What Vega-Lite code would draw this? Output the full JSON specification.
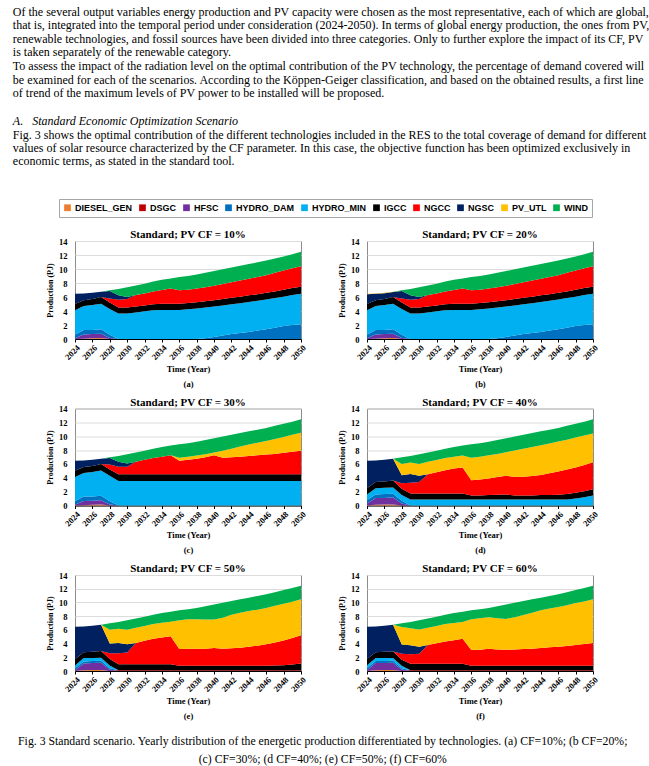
{
"$schema":"https://vega.github.io/schema/vega-lite/v6.json",
"background":"white",
"padding":{"left":12,"top":5,"right":0,"bottom":0},
"datasets":{
"names":[{"k":"DG","tech":"DIESEL_GEN"},{"k":"DS","tech":"DSGC"},{"k":"HF","tech":"HFSC"},{"k":"HD","tech":"HYDRO_DAM"},{"k":"HM","tech":"HYDRO_MIN"},{"k":"IG","tech":"IGCC"},{"k":"NC","tech":"NGCC"},{"k":"NS","tech":"NGSC"},{"k":"PV","tech":"PV_UTL"},{"k":"WI","tech":"WIND"}],
"prod":[
{"p":"a","yr":2024,"DG":0,"DS":0,"HF":0.1,"HD":0.5,"HM":3.5,"IG":0.9,"NC":0,"NS":1.45,"PV":0,"WI":0},
{"p":"a","yr":2025,"DG":0.05,"DS":0,"HF":0.6,"HD":0.65,"HM":3.4,"IG":0.85,"NC":0,"NS":0.95,"PV":0,"WI":0},
{"p":"a","yr":2026,"DG":0.1,"DS":0,"HF":0.6,"HD":0.6,"HM":3.55,"IG":0.85,"NC":0,"NS":0.9,"PV":0,"WI":0},
{"p":"a","yr":2027,"DG":0.15,"DS":0,"HF":0.6,"HD":0.65,"HM":3.65,"IG":0.95,"NC":0,"NS":0.75,"PV":0,"WI":0},
{"p":"a","yr":2028,"DG":0,"DS":0,"HF":0.15,"HD":0.45,"HM":3.7,"IG":0.9,"NC":0.6,"NS":1.05,"PV":0,"WI":0.1},
{"p":"a","yr":2029,"DG":0,"DS":0,"HF":0,"HD":0,"HM":3.65,"IG":0.85,"NC":1.1,"NS":0.65,"PV":0,"WI":0.9},
{"p":"a","yr":2030,"DG":0,"DS":0,"HF":0,"HD":0,"HM":3.65,"IG":0.85,"NC":1.2,"NS":0.3,"PV":0,"WI":1.4},
{"p":"a","yr":2031,"DG":0,"DS":0,"HF":0,"HD":0,"HM":3.8,"IG":0.85,"NC":1.65,"NS":0,"PV":0,"WI":1.35},
{"p":"a","yr":2032,"DG":0,"DS":0,"HF":0,"HD":0,"HM":3.95,"IG":0.85,"NC":1.7,"NS":0,"PV":0,"WI":1.4},
{"p":"a","yr":2033,"DG":0,"DS":0,"HF":0,"HD":0,"HM":4.1,"IG":0.85,"NC":1.85,"NS":0,"PV":0,"WI":1.4},
{"p":"a","yr":2034,"DG":0,"DS":0,"HF":0,"HD":0,"HM":4.15,"IG":0.9,"NC":1.95,"NS":0,"PV":0,"WI":1.45},
{"p":"a","yr":2035,"DG":0,"DS":0,"HF":0,"HD":0,"HM":4.15,"IG":0.9,"NC":2.15,"NS":0,"PV":0,"WI":1.45},
{"p":"a","yr":2036,"DG":0,"DS":0,"HF":0,"HD":0,"HM":4.15,"IG":0.9,"NC":1.9,"NS":0,"PV":0,"WI":1.9},
{"p":"a","yr":2037,"DG":0,"DS":0,"HF":0,"HD":0,"HM":4.25,"IG":0.9,"NC":1.9,"NS":0,"PV":0,"WI":1.95},
{"p":"a","yr":2038,"DG":0,"DS":0,"HF":0,"HD":0,"HM":4.35,"IG":0.9,"NC":1.95,"NS":0,"PV":0,"WI":2.0},
{"p":"a","yr":2039,"DG":0,"DS":0,"HF":0,"HD":0.1,"HM":4.4,"IG":0.9,"NC":2.0,"NS":0,"PV":0,"WI":2.05},
{"p":"a","yr":2040,"DG":0,"DS":0,"HF":0,"HD":0.3,"HM":4.35,"IG":0.9,"NC":2.05,"NS":0,"PV":0,"WI":2.1},
{"p":"a","yr":2041,"DG":0,"DS":0,"HF":0,"HD":0.5,"HM":4.3,"IG":0.9,"NC":2.15,"NS":0,"PV":0,"WI":2.1},
{"p":"a","yr":2042,"DG":0,"DS":0,"HF":0,"HD":0.7,"HM":4.25,"IG":0.95,"NC":2.2,"NS":0,"PV":0,"WI":2.1},
{"p":"a","yr":2043,"DG":0,"DS":0,"HF":0,"HD":0.85,"HM":4.25,"IG":0.95,"NC":2.3,"NS":0,"PV":0,"WI":2.1},
{"p":"a","yr":2044,"DG":0,"DS":0,"HF":0,"HD":1.0,"HM":4.3,"IG":0.95,"NC":2.35,"NS":0,"PV":0,"WI":2.1},
{"p":"a","yr":2045,"DG":0,"DS":0,"HF":0,"HD":1.2,"HM":4.25,"IG":0.95,"NC":2.45,"NS":0,"PV":0,"WI":2.1},
{"p":"a","yr":2046,"DG":0,"DS":0,"HF":0,"HD":1.4,"HM":4.25,"IG":0.95,"NC":2.5,"NS":0,"PV":0,"WI":2.1},
{"p":"a","yr":2047,"DG":0,"DS":0,"HF":0,"HD":1.6,"HM":4.25,"IG":0.95,"NC":2.65,"NS":0,"PV":0,"WI":2.05},
{"p":"a","yr":2048,"DG":0,"DS":0,"HF":0,"HD":1.85,"HM":4.2,"IG":1.0,"NC":2.75,"NS":0,"PV":0,"WI":2.0},
{"p":"a","yr":2049,"DG":0,"DS":0,"HF":0,"HD":2.0,"HM":4.3,"IG":1.0,"NC":2.8,"NS":0,"PV":0,"WI":2.0},
{"p":"a","yr":2050,"DG":0,"DS":0,"HF":0,"HD":2.1,"HM":4.35,"IG":1.0,"NC":2.95,"NS":0,"PV":0,"WI":2.05},
{"p":"b","yr":2024,"DG":0,"DS":0,"HF":0.1,"HD":0.5,"HM":3.5,"IG":0.9,"NC":0,"NS":1.4,"PV":0.05,"WI":0},
{"p":"b","yr":2025,"DG":0.05,"DS":0,"HF":0.6,"HD":0.65,"HM":3.4,"IG":0.85,"NC":0,"NS":0.9,"PV":0.05,"WI":0},
{"p":"b","yr":2026,"DG":0.1,"DS":0,"HF":0.6,"HD":0.6,"HM":3.55,"IG":0.85,"NC":0,"NS":0.85,"PV":0.05,"WI":0},
{"p":"b","yr":2027,"DG":0.15,"DS":0,"HF":0.6,"HD":0.65,"HM":3.65,"IG":0.95,"NC":0,"NS":0.7,"PV":0.05,"WI":0},
{"p":"b","yr":2028,"DG":0,"DS":0,"HF":0.15,"HD":0.45,"HM":3.7,"IG":0.9,"NC":0.6,"NS":1.05,"PV":0,"WI":0.1},
{"p":"b","yr":2029,"DG":0,"DS":0,"HF":0,"HD":0,"HM":3.65,"IG":0.85,"NC":1.1,"NS":0.65,"PV":0,"WI":0.9},
{"p":"b","yr":2030,"DG":0,"DS":0,"HF":0,"HD":0,"HM":3.65,"IG":0.85,"NC":1.2,"NS":0.3,"PV":0,"WI":1.4},
{"p":"b","yr":2031,"DG":0,"DS":0,"HF":0,"HD":0,"HM":3.8,"IG":0.85,"NC":1.65,"NS":0,"PV":0,"WI":1.35},
{"p":"b","yr":2032,"DG":0,"DS":0,"HF":0,"HD":0,"HM":3.95,"IG":0.85,"NC":1.7,"NS":0,"PV":0,"WI":1.4},
{"p":"b","yr":2033,"DG":0,"DS":0,"HF":0,"HD":0,"HM":4.1,"IG":0.85,"NC":1.85,"NS":0,"PV":0,"WI":1.4},
{"p":"b","yr":2034,"DG":0,"DS":0,"HF":0,"HD":0,"HM":4.15,"IG":0.9,"NC":1.95,"NS":0,"PV":0,"WI":1.45},
{"p":"b","yr":2035,"DG":0,"DS":0,"HF":0,"HD":0,"HM":4.15,"IG":0.9,"NC":2.15,"NS":0,"PV":0,"WI":1.45},
{"p":"b","yr":2036,"DG":0,"DS":0,"HF":0,"HD":0,"HM":4.15,"IG":0.9,"NC":1.9,"NS":0,"PV":0,"WI":1.9},
{"p":"b","yr":2037,"DG":0,"DS":0,"HF":0,"HD":0,"HM":4.25,"IG":0.9,"NC":1.9,"NS":0,"PV":0,"WI":1.95},
{"p":"b","yr":2038,"DG":0,"DS":0,"HF":0,"HD":0,"HM":4.35,"IG":0.9,"NC":1.95,"NS":0,"PV":0,"WI":2.0},
{"p":"b","yr":2039,"DG":0,"DS":0,"HF":0,"HD":0.1,"HM":4.4,"IG":0.9,"NC":2.0,"NS":0,"PV":0,"WI":2.05},
{"p":"b","yr":2040,"DG":0,"DS":0,"HF":0,"HD":0.3,"HM":4.35,"IG":0.9,"NC":2.05,"NS":0,"PV":0,"WI":2.1},
{"p":"b","yr":2041,"DG":0,"DS":0,"HF":0,"HD":0.5,"HM":4.3,"IG":0.9,"NC":2.15,"NS":0,"PV":0,"WI":2.1},
{"p":"b","yr":2042,"DG":0,"DS":0,"HF":0,"HD":0.7,"HM":4.25,"IG":0.95,"NC":2.2,"NS":0,"PV":0,"WI":2.1},
{"p":"b","yr":2043,"DG":0,"DS":0,"HF":0,"HD":0.85,"HM":4.25,"IG":0.95,"NC":2.3,"NS":0,"PV":0,"WI":2.1},
{"p":"b","yr":2044,"DG":0,"DS":0,"HF":0,"HD":1.0,"HM":4.3,"IG":0.95,"NC":2.35,"NS":0,"PV":0,"WI":2.1},
{"p":"b","yr":2045,"DG":0,"DS":0,"HF":0,"HD":1.2,"HM":4.25,"IG":0.95,"NC":2.45,"NS":0,"PV":0,"WI":2.1},
{"p":"b","yr":2046,"DG":0,"DS":0,"HF":0,"HD":1.4,"HM":4.25,"IG":0.95,"NC":2.5,"NS":0,"PV":0,"WI":2.1},
{"p":"b","yr":2047,"DG":0,"DS":0,"HF":0,"HD":1.6,"HM":4.25,"IG":0.95,"NC":2.65,"NS":0,"PV":0,"WI":2.05},
{"p":"b","yr":2048,"DG":0,"DS":0,"HF":0,"HD":1.85,"HM":4.2,"IG":1.0,"NC":2.75,"NS":0,"PV":0,"WI":2.0},
{"p":"b","yr":2049,"DG":0,"DS":0,"HF":0,"HD":2.0,"HM":4.3,"IG":1.0,"NC":2.8,"NS":0,"PV":0,"WI":2.0},
{"p":"b","yr":2050,"DG":0,"DS":0,"HF":0,"HD":2.1,"HM":4.35,"IG":1.0,"NC":2.95,"NS":0,"PV":0,"WI":2.05},
{"p":"c","yr":2024,"DG":0,"DS":0,"HF":0.1,"HD":0.5,"HM":3.5,"IG":0.9,"NC":0,"NS":1.45,"PV":0,"WI":0},
{"p":"c","yr":2025,"DG":0.05,"DS":0,"HF":0.6,"HD":0.65,"HM":3.4,"IG":0.85,"NC":0,"NS":0.95,"PV":0,"WI":0},
{"p":"c","yr":2026,"DG":0.1,"DS":0,"HF":0.6,"HD":0.6,"HM":3.55,"IG":0.85,"NC":0,"NS":0.9,"PV":0,"WI":0},
{"p":"c","yr":2027,"DG":0.15,"DS":0,"HF":0.6,"HD":0.65,"HM":3.65,"IG":0.95,"NC":0,"NS":0.75,"PV":0,"WI":0},
{"p":"c","yr":2028,"DG":0,"DS":0,"HF":0.15,"HD":0.45,"HM":3.7,"IG":0.9,"NC":0.7,"NS":0.95,"PV":0,"WI":0.1},
{"p":"c","yr":2029,"DG":0,"DS":0,"HF":0,"HD":0,"HM":3.55,"IG":0.95,"NC":1.1,"NS":0.7,"PV":0,"WI":0.85},
{"p":"c","yr":2030,"DG":0,"DS":0,"HF":0,"HD":0,"HM":3.55,"IG":0.95,"NC":1.1,"NS":0.45,"PV":0,"WI":1.35},
{"p":"c","yr":2031,"DG":0,"DS":0,"HF":0,"HD":0,"HM":3.55,"IG":0.95,"NC":1.8,"NS":0,"PV":0,"WI":1.35},
{"p":"c","yr":2032,"DG":0,"DS":0,"HF":0,"HD":0,"HM":3.55,"IG":0.95,"NC":2.1,"NS":0,"PV":0,"WI":1.3},
{"p":"c","yr":2033,"DG":0,"DS":0,"HF":0,"HD":0,"HM":3.55,"IG":0.95,"NC":2.35,"NS":0,"PV":0,"WI":1.35},
{"p":"c","yr":2034,"DG":0,"DS":0,"HF":0,"HD":0,"HM":3.55,"IG":0.95,"NC":2.55,"NS":0,"PV":0,"WI":1.4},
{"p":"c","yr":2035,"DG":0,"DS":0,"HF":0,"HD":0,"HM":3.55,"IG":0.95,"NC":2.75,"NS":0,"PV":0,"WI":1.4},
{"p":"c","yr":2036,"DG":0,"DS":0,"HF":0,"HD":0,"HM":3.55,"IG":0.95,"NC":1.95,"NS":0,"PV":0.45,"WI":1.95},
{"p":"c","yr":2037,"DG":0,"DS":0,"HF":0,"HD":0,"HM":3.55,"IG":0.95,"NC":2.1,"NS":0,"PV":0.45,"WI":1.95},
{"p":"c","yr":2038,"DG":0,"DS":0,"HF":0,"HD":0,"HM":3.55,"IG":0.95,"NC":2.25,"NS":0,"PV":0.45,"WI":2.0},
{"p":"c","yr":2039,"DG":0,"DS":0,"HF":0,"HD":0,"HM":3.55,"IG":0.95,"NC":2.45,"NS":0,"PV":0.45,"WI":2.05},
{"p":"c","yr":2040,"DG":0,"DS":0,"HF":0,"HD":0,"HM":3.55,"IG":0.95,"NC":2.75,"NS":0,"PV":0.4,"WI":2.05},
{"p":"c","yr":2041,"DG":0,"DS":0,"HF":0,"HD":0,"HM":3.55,"IG":0.95,"NC":2.4,"NS":0,"PV":1.0,"WI":2.05},
{"p":"c","yr":2042,"DG":0,"DS":0,"HF":0,"HD":0,"HM":3.55,"IG":0.95,"NC":2.45,"NS":0,"PV":1.25,"WI":2.0},
{"p":"c","yr":2043,"DG":0,"DS":0,"HF":0,"HD":0,"HM":3.55,"IG":0.95,"NC":2.55,"NS":0,"PV":1.45,"WI":1.95},
{"p":"c","yr":2044,"DG":0,"DS":0,"HF":0,"HD":0,"HM":3.55,"IG":0.95,"NC":2.65,"NS":0,"PV":1.65,"WI":1.9},
{"p":"c","yr":2045,"DG":0,"DS":0,"HF":0,"HD":0,"HM":3.55,"IG":0.95,"NC":2.75,"NS":0,"PV":1.8,"WI":1.9},
{"p":"c","yr":2046,"DG":0,"DS":0,"HF":0,"HD":0,"HM":3.55,"IG":0.95,"NC":2.85,"NS":0,"PV":1.95,"WI":1.9},
{"p":"c","yr":2047,"DG":0,"DS":0,"HF":0,"HD":0,"HM":3.55,"IG":0.95,"NC":2.95,"NS":0,"PV":2.15,"WI":1.9},
{"p":"c","yr":2048,"DG":0,"DS":0,"HF":0,"HD":0,"HM":3.55,"IG":0.95,"NC":3.1,"NS":0,"PV":2.3,"WI":1.9},
{"p":"c","yr":2049,"DG":0,"DS":0,"HF":0,"HD":0,"HM":3.55,"IG":0.95,"NC":3.25,"NS":0,"PV":2.45,"WI":1.9},
{"p":"c","yr":2050,"DG":0,"DS":0,"HF":0,"HD":0,"HM":3.55,"IG":0.95,"NC":3.4,"NS":0,"PV":2.6,"WI":1.95},
{"p":"d","yr":2024,"DG":0,"DS":0,"HF":0.3,"HD":0.5,"HM":0.8,"IG":0.9,"NC":0,"NS":3.95,"PV":0,"WI":0},
{"p":"d","yr":2025,"DG":0.1,"DS":0,"HF":1.0,"HD":0.5,"HM":0.9,"IG":0.9,"NC":0,"NS":3.1,"PV":0,"WI":0},
{"p":"d","yr":2026,"DG":0.15,"DS":0,"HF":0.95,"HD":0.55,"HM":0.9,"IG":0.9,"NC":0,"NS":3.15,"PV":0,"WI":0},
{"p":"d","yr":2027,"DG":0.15,"DS":0,"HF":1.05,"HD":0.5,"HM":0.9,"IG":1.0,"NC":0,"NS":3.15,"PV":0,"WI":0},
{"p":"d","yr":2028,"DG":0,"DS":0,"HF":0.3,"HD":0.4,"HM":0.8,"IG":0.9,"NC":0.8,"NS":1.15,"PV":1.65,"WI":0.95},
{"p":"d","yr":2029,"DG":0,"DS":0,"HF":0,"HD":0,"HM":0.85,"IG":0.9,"NC":1.55,"NS":1.25,"PV":1.65,"WI":0.95},
{"p":"d","yr":2030,"DG":0,"DS":0,"HF":0,"HD":0,"HM":0.85,"IG":0.9,"NC":1.65,"NS":0.9,"PV":1.7,"WI":1.4},
{"p":"d","yr":2031,"DG":0,"DS":0,"HF":0,"HD":0,"HM":0.85,"IG":0.9,"NC":2.75,"NS":0,"PV":1.8,"WI":1.35},
{"p":"d","yr":2032,"DG":0,"DS":0,"HF":0,"HD":0,"HM":0.85,"IG":0.9,"NC":3.05,"NS":0,"PV":1.75,"WI":1.35},
{"p":"d","yr":2033,"DG":0,"DS":0,"HF":0,"HD":0,"HM":0.85,"IG":0.9,"NC":3.35,"NS":0,"PV":1.75,"WI":1.35},
{"p":"d","yr":2034,"DG":0,"DS":0,"HF":0,"HD":0,"HM":0.85,"IG":0.9,"NC":3.6,"NS":0,"PV":1.7,"WI":1.4},
{"p":"d","yr":2035,"DG":0,"DS":0,"HF":0,"HD":0,"HM":0.85,"IG":0.9,"NC":3.75,"NS":0,"PV":1.7,"WI":1.45},
{"p":"d","yr":2036,"DG":0,"DS":0,"HF":0,"HD":0,"HM":0.85,"IG":0.6,"NC":2.2,"NS":0,"PV":3.25,"WI":1.95},
{"p":"d","yr":2037,"DG":0,"DS":0,"HF":0,"HD":0,"HM":0.85,"IG":0.6,"NC":2.3,"NS":0,"PV":3.3,"WI":1.95},
{"p":"d","yr":2038,"DG":0,"DS":0,"HF":0,"HD":0,"HM":0.85,"IG":0.65,"NC":2.4,"NS":0,"PV":3.35,"WI":1.95},
{"p":"d","yr":2039,"DG":0,"DS":0,"HF":0,"HD":0,"HM":0.85,"IG":0.7,"NC":2.55,"NS":0,"PV":3.35,"WI":2.0},
{"p":"d","yr":2040,"DG":0,"DS":0,"HF":0,"HD":0,"HM":0.85,"IG":0.75,"NC":2.7,"NS":0,"PV":3.4,"WI":2.0},
{"p":"d","yr":2041,"DG":0,"DS":0,"HF":0,"HD":0,"HM":0.85,"IG":0.6,"NC":2.65,"NS":0,"PV":3.85,"WI":2.0},
{"p":"d","yr":2042,"DG":0,"DS":0,"HF":0,"HD":0,"HM":0.85,"IG":0.6,"NC":2.7,"NS":0,"PV":4.05,"WI":2.0},
{"p":"d","yr":2043,"DG":0,"DS":0,"HF":0,"HD":0,"HM":0.85,"IG":0.6,"NC":2.8,"NS":0,"PV":4.2,"WI":2.0},
{"p":"d","yr":2044,"DG":0,"DS":0,"HF":0,"HD":0,"HM":0.85,"IG":0.65,"NC":2.9,"NS":0,"PV":4.3,"WI":2.0},
{"p":"d","yr":2045,"DG":0,"DS":0,"HF":0,"HD":0,"HM":0.85,"IG":0.65,"NC":3.15,"NS":0,"PV":4.3,"WI":2.0},
{"p":"d","yr":2046,"DG":0,"DS":0,"HF":0,"HD":0,"HM":0.85,"IG":0.7,"NC":3.35,"NS":0,"PV":4.35,"WI":1.95},
{"p":"d","yr":2047,"DG":0,"DS":0,"HF":0,"HD":0,"HM":0.85,"IG":0.8,"NC":3.55,"NS":0,"PV":4.3,"WI":2.0},
{"p":"d","yr":2048,"DG":0,"DS":0,"HF":0,"HD":0,"HM":1.0,"IG":0.85,"NC":3.65,"NS":0,"PV":4.3,"WI":2.0},
{"p":"d","yr":2049,"DG":0,"DS":0,"HF":0,"HD":0,"HM":1.2,"IG":0.85,"NC":3.8,"NS":0,"PV":4.25,"WI":2.0},
{"p":"d","yr":2050,"DG":0,"DS":0,"HF":0,"HD":0,"HM":1.45,"IG":0.9,"NC":3.9,"NS":0,"PV":4.15,"WI":2.05},
{"p":"e","yr":2024,"DG":0,"DS":0,"HF":0.1,"HD":0.3,"HM":0.4,"IG":0.9,"NC":0,"NS":4.75,"PV":0,"WI":0},
{"p":"e","yr":2025,"DG":0.1,"DS":0,"HF":1.0,"HD":0.3,"HM":0.5,"IG":0.85,"NC":0,"NS":3.75,"PV":0,"WI":0},
{"p":"e","yr":2026,"DG":0.15,"DS":0,"HF":1.0,"HD":0.3,"HM":0.45,"IG":0.9,"NC":0,"NS":3.8,"PV":0,"WI":0},
{"p":"e","yr":2027,"DG":0.15,"DS":0,"HF":1.05,"HD":0.3,"HM":0.45,"IG":0.95,"NC":0,"NS":3.85,"PV":0,"WI":0},
{"p":"e","yr":2028,"DG":0,"DS":0,"HF":0.2,"HD":0.2,"HM":0.4,"IG":0.95,"NC":0.85,"NS":1.4,"PV":2.0,"WI":0.95},
{"p":"e","yr":2029,"DG":0,"DS":0.1,"HF":0,"HD":0,"HM":0,"IG":0.9,"NC":1.6,"NS":1.5,"PV":2.05,"WI":1.0},
{"p":"e","yr":2030,"DG":0,"DS":0.1,"HF":0,"HD":0,"HM":0,"IG":0.9,"NC":1.7,"NS":1.2,"PV":2.1,"WI":1.4},
{"p":"e","yr":2031,"DG":0,"DS":0.1,"HF":0,"HD":0,"HM":0,"IG":0.9,"NC":3.1,"NS":0,"PV":2.2,"WI":1.35},
{"p":"e","yr":2032,"DG":0,"DS":0.1,"HF":0,"HD":0,"HM":0,"IG":0.9,"NC":3.4,"NS":0,"PV":2.15,"WI":1.35},
{"p":"e","yr":2033,"DG":0,"DS":0.1,"HF":0,"HD":0,"HM":0,"IG":0.9,"NC":3.7,"NS":0,"PV":2.15,"WI":1.35},
{"p":"e","yr":2034,"DG":0,"DS":0.1,"HF":0,"HD":0,"HM":0,"IG":0.9,"NC":3.9,"NS":0,"PV":2.15,"WI":1.4},
{"p":"e","yr":2035,"DG":0,"DS":0.1,"HF":0,"HD":0,"HM":0,"IG":0.9,"NC":4.05,"NS":0,"PV":2.15,"WI":1.45},
{"p":"e","yr":2036,"DG":0,"DS":0.1,"HF":0,"HD":0,"HM":0,"IG":0.65,"NC":2.45,"NS":0,"PV":4.2,"WI":1.45},
{"p":"e","yr":2037,"DG":0,"DS":0.1,"HF":0,"HD":0,"HM":0,"IG":0.65,"NC":2.5,"NS":0,"PV":4.3,"WI":1.45},
{"p":"e","yr":2038,"DG":0,"DS":0.1,"HF":0,"HD":0,"HM":0,"IG":0.65,"NC":2.5,"NS":0,"PV":4.3,"WI":1.65},
{"p":"e","yr":2039,"DG":0,"DS":0.1,"HF":0,"HD":0,"HM":0,"IG":0.65,"NC":2.5,"NS":0,"PV":4.25,"WI":1.95},
{"p":"e","yr":2040,"DG":0,"DS":0.1,"HF":0,"HD":0,"HM":0,"IG":0.65,"NC":2.6,"NS":0,"PV":4.15,"WI":2.2},
{"p":"e","yr":2041,"DG":0,"DS":0.1,"HF":0,"HD":0,"HM":0,"IG":0.65,"NC":2.5,"NS":0,"PV":4.5,"WI":2.2},
{"p":"e","yr":2042,"DG":0,"DS":0.1,"HF":0,"HD":0,"HM":0,"IG":0.65,"NC":2.55,"NS":0,"PV":4.9,"WI":2.0},
{"p":"e","yr":2043,"DG":0,"DS":0.1,"HF":0,"HD":0,"HM":0,"IG":0.65,"NC":2.65,"NS":0,"PV":5.1,"WI":1.95},
{"p":"e","yr":2044,"DG":0,"DS":0.1,"HF":0,"HD":0,"HM":0,"IG":0.65,"NC":2.8,"NS":0,"PV":5.2,"WI":1.95},
{"p":"e","yr":2045,"DG":0,"DS":0.1,"HF":0,"HD":0,"HM":0,"IG":0.65,"NC":2.95,"NS":0,"PV":5.25,"WI":2.0},
{"p":"e","yr":2046,"DG":0,"DS":0.1,"HF":0,"HD":0,"HM":0,"IG":0.65,"NC":3.15,"NS":0,"PV":5.3,"WI":2.0},
{"p":"e","yr":2047,"DG":0,"DS":0.1,"HF":0,"HD":0,"HM":0,"IG":0.7,"NC":3.35,"NS":0,"PV":5.35,"WI":2.0},
{"p":"e","yr":2048,"DG":0,"DS":0.1,"HF":0,"HD":0,"HM":0,"IG":0.75,"NC":3.6,"NS":0,"PV":5.35,"WI":2.0},
{"p":"e","yr":2049,"DG":0,"DS":0.1,"HF":0,"HD":0,"HM":0,"IG":0.85,"NC":3.85,"NS":0,"PV":5.3,"WI":2.0},
{"p":"e","yr":2050,"DG":0,"DS":0.1,"HF":0,"HD":0,"HM":0,"IG":1.0,"NC":4.1,"NS":0,"PV":5.25,"WI":2.0},
{"p":"f","yr":2024,"DG":0,"DS":0,"HF":0.1,"HD":0.3,"HM":0.45,"IG":0.9,"NC":0,"NS":4.7,"PV":0,"WI":0},
{"p":"f","yr":2025,"DG":0.1,"DS":0,"HF":1.05,"HD":0.3,"HM":0.45,"IG":0.85,"NC":0,"NS":3.75,"PV":0,"WI":0},
{"p":"f","yr":2026,"DG":0.15,"DS":0,"HF":1.0,"HD":0.3,"HM":0.45,"IG":0.9,"NC":0,"NS":3.8,"PV":0,"WI":0},
{"p":"f","yr":2027,"DG":0.15,"DS":0,"HF":1.05,"HD":0.3,"HM":0.4,"IG":0.95,"NC":0,"NS":3.9,"PV":0,"WI":0},
{"p":"f","yr":2028,"DG":0,"DS":0,"HF":0.2,"HD":0.2,"HM":0.35,"IG":0.9,"NC":0.85,"NS":1.35,"PV":2.55,"WI":0.55},
{"p":"f","yr":2029,"DG":0,"DS":0.1,"HF":0,"HD":0,"HM":0,"IG":0.95,"NC":1.4,"NS":1.3,"PV":2.5,"WI":0.9},
{"p":"f","yr":2030,"DG":0,"DS":0.1,"HF":0,"HD":0,"HM":0,"IG":0.95,"NC":1.45,"NS":1.05,"PV":2.5,"WI":1.35},
{"p":"f","yr":2031,"DG":0,"DS":0.1,"HF":0,"HD":0,"HM":0,"IG":0.95,"NC":2.75,"NS":0,"PV":2.5,"WI":1.35},
{"p":"f","yr":2032,"DG":0,"DS":0.1,"HF":0,"HD":0,"HM":0,"IG":0.95,"NC":3.0,"NS":0,"PV":2.5,"WI":1.35},
{"p":"f","yr":2033,"DG":0,"DS":0.1,"HF":0,"HD":0,"HM":0,"IG":0.95,"NC":3.25,"NS":0,"PV":2.55,"WI":1.35},
{"p":"f","yr":2034,"DG":0,"DS":0.1,"HF":0,"HD":0,"HM":0,"IG":0.95,"NC":3.45,"NS":0,"PV":2.5,"WI":1.45},
{"p":"f","yr":2035,"DG":0,"DS":0.1,"HF":0,"HD":0,"HM":0,"IG":0.95,"NC":3.65,"NS":0,"PV":2.45,"WI":1.5},
{"p":"f","yr":2036,"DG":0,"DS":0.1,"HF":0,"HD":0,"HM":0,"IG":0.65,"NC":2.3,"NS":0,"PV":4.5,"WI":1.3},
{"p":"f","yr":2037,"DG":0,"DS":0.1,"HF":0,"HD":0,"HM":0,"IG":0.65,"NC":2.35,"NS":0,"PV":4.6,"WI":1.3},
{"p":"f","yr":2038,"DG":0,"DS":0.1,"HF":0,"HD":0,"HM":0,"IG":0.65,"NC":2.5,"NS":0,"PV":4.6,"WI":1.35},
{"p":"f","yr":2039,"DG":0,"DS":0.1,"HF":0,"HD":0,"HM":0,"IG":0.65,"NC":2.4,"NS":0,"PV":4.55,"WI":1.75},
{"p":"f","yr":2040,"DG":0,"DS":0.1,"HF":0,"HD":0,"HM":0,"IG":0.65,"NC":2.35,"NS":0,"PV":4.5,"WI":2.1},
{"p":"f","yr":2041,"DG":0,"DS":0.1,"HF":0,"HD":0,"HM":0,"IG":0.65,"NC":2.4,"NS":0,"PV":4.7,"WI":2.1},
{"p":"f","yr":2042,"DG":0,"DS":0.1,"HF":0,"HD":0,"HM":0,"IG":0.65,"NC":2.45,"NS":0,"PV":4.95,"WI":2.05},
{"p":"f","yr":2043,"DG":0,"DS":0.1,"HF":0,"HD":0,"HM":0,"IG":0.65,"NC":2.5,"NS":0,"PV":5.25,"WI":1.95},
{"p":"f","yr":2044,"DG":0,"DS":0.1,"HF":0,"HD":0,"HM":0,"IG":0.65,"NC":2.6,"NS":0,"PV":5.5,"WI":1.85},
{"p":"f","yr":2045,"DG":0,"DS":0.1,"HF":0,"HD":0,"HM":0,"IG":0.65,"NC":2.7,"NS":0,"PV":5.65,"WI":1.85},
{"p":"f","yr":2046,"DG":0,"DS":0.1,"HF":0,"HD":0,"HM":0,"IG":0.65,"NC":2.8,"NS":0,"PV":5.8,"WI":1.85},
{"p":"f","yr":2047,"DG":0,"DS":0.1,"HF":0,"HD":0,"HM":0,"IG":0.65,"NC":2.9,"NS":0,"PV":5.95,"WI":1.9},
{"p":"f","yr":2048,"DG":0,"DS":0.1,"HF":0,"HD":0,"HM":0,"IG":0.65,"NC":3.05,"NS":0,"PV":6.1,"WI":1.9},
{"p":"f","yr":2049,"DG":0,"DS":0.1,"HF":0,"HD":0,"HM":0,"IG":0.65,"NC":3.2,"NS":0,"PV":6.2,"WI":1.95},
{"p":"f","yr":2050,"DG":0,"DS":0.1,"HF":0,"HD":0,"HM":0,"IG":0.65,"NC":3.35,"NS":0,"PV":6.35,"WI":2.0}
]},
"title":{"text":["Of the several output variables energy production and PV capacity were chosen as the most representative, each of which are global,","that is, integrated into the temporal period under consideration (2024-2050). In terms of global energy production, the ones from PV,","renewable technologies, and fossil sources have been divided into three categories. Only to further explore the impact of its CF, PV","is taken separately of the renewable category.","To assess the impact of the radiation level on the optimal contribution of the PV technology, the percentage of demand covered will","be examined for each of the scenarios. According to the Köppen-Geiger classification, and based on the obtained results, a first line","of trend of the maximum levels of PV power to be installed will be proposed."],"anchor":"start","font":"Liberation Serif","fontSize":12,"fontWeight":"normal","lineHeight":13.6,"offset":15,"color":"#000"},
"config":{
"view":{"stroke":"#8c8c8c","strokeWidth":1},
"title":{"font":"Liberation Serif","fontSize":11,"fontWeight":"bold","color":"#000","offset":-3},
"axis":{"labelFont":"Liberation Serif","labelFontWeight":"bold","labelColor":"#000","titleFont":"Liberation Serif","titleFontWeight":"bold","titleColor":"#000"},
"axisX":{"grid":false,"domainColor":"#000","domainWidth":1,"tickColor":"#000","tickSize":3,"labelFontSize":8.5,"labelAngle":-45,"labelPadding":1,"labelOverlap":false,"titleFontSize":8.5,"titlePadding":3,"titleLineHeight":15},
"axisY":{"domain":false,"ticks":false,"gridColor":"#dcdcdc","labelFontSize":8.5,"labelPadding":8,"titleFontSize":8,"titlePadding":4}
},
"vconcat":[{
"title":{"text":"A.\u00a0\u00a0\u00a0Standard Economic Optimization Scenario","subtitle":["Fig. 3 shows the optimal contribution of the different technologies included in the RES to the total coverage of demand for different","values of solar resource characterized by the CF parameter. In this case, the objective function has been optimized exclusively in","economic terms, as stated in the standard tool."],"anchor":"start","dx":-5,"font":"Liberation Serif","fontSize":12,"fontWeight":"normal","fontStyle":"italic","color":"#000","subtitleFont":"Liberation Serif","subtitleFontSize":12,"subtitleColor":"#000","subtitleLineHeight":13.4,"subtitlePadding":1.5,"offset":60},
"vconcat":[{
"title":{"text":["Fig. 3 Standard scenario. Yearly distribution of the energetic production differentiated by technologies. (a) CF=10%; (b CF=20%;","(c) CF=30%; (d CF=40%; (e) CF=50%; (f) CF=60%"],"orient":"bottom","anchor":"middle","dx":0,"font":"Liberation Serif","fontSize":11.75,"fontWeight":"normal","lineHeight":18,"offset":16,"color":"#000"},
"spacing":6.5,
"vconcat":[
{"hconcat":[
{"title":"Standard; PV CF = 10%","width":226,"height":98,"data":{"name":"prod"},
"transform":[{"filter":"datum.p === 'a'"},{"fold":["DG","DS","HF","HD","HM","IG","NC","NS","PV","WI"],"as":["k","value"]},{"lookup":"k","from":{"data":{"name":"names"},"key":"k","fields":["tech"]}}],
"mark":{"type":"area"},
"encoding":{
"x":{"field":"yr","type":"quantitative","scale":{"domain":[2024,2050],"nice":false,"zero":false},"axis":{"values":[2024,2026,2028,2030,2032,2034,2036,2038,2040,2042,2044,2046,2048,2050],"format":"d","title":["Time (Year)","(a)"]}},
"y":{"field":"value","type":"quantitative","stack":"zero","scale":{"domain":[0,14],"nice":false},"axis":{"values":[0,2,4,6,8,10,12,14],"title":"Production (PJ)"}},
"color":{"field":"tech","type":"nominal","scale":{"domain":["DIESEL_GEN","DSGC","HFSC","HYDRO_DAM","HYDRO_MIN","IGCC","NGCC","NGSC","PV_UTL","WIND"],"range":["#ED7D31","#C00000","#7030A0","#0070C0","#00B0F0","#000000","#FF0000","#002060","#FFC000","#00B050"]},"legend":{"orient":"none","legendX":-16,"legendY":-42,"direction":"horizontal","title":null,"symbolType":"square","symbolSize":45,"symbolStrokeWidth":0,"labelFont":"Liberation Sans","labelFontWeight":"bold","labelFontSize":9,"labelColor":"#000","columnPadding":5,"labelOffset":3,"strokeColor":"#a6a6a6","padding":4}},
"order":{"field":"tech","type":"ordinal","sort":"ascending"}}},
{"title":"Standard; PV CF = 20%","width":226,"height":98,"data":{"name":"prod"},
"transform":[{"filter":"datum.p === 'b'"},{"fold":["DG","DS","HF","HD","HM","IG","NC","NS","PV","WI"],"as":["k","value"]},{"lookup":"k","from":{"data":{"name":"names"},"key":"k","fields":["tech"]}}],
"mark":{"type":"area"},
"encoding":{
"x":{"field":"yr","type":"quantitative","scale":{"domain":[2024,2050],"nice":false,"zero":false},"axis":{"values":[2024,2026,2028,2030,2032,2034,2036,2038,2040,2042,2044,2046,2048,2050],"format":"d","title":["Time (Year)","(b)"]}},
"y":{"field":"value","type":"quantitative","stack":"zero","scale":{"domain":[0,14],"nice":false},"axis":{"values":[0,2,4,6,8,10,12,14],"title":"Production (PJ)"}},
"color":{"field":"tech","type":"nominal"},
"order":{"field":"tech","type":"ordinal","sort":"ascending"}}}
],"spacing":30},
{"hconcat":[
{"title":"Standard; PV CF = 30%","width":226,"height":97,"data":{"name":"prod"},
"transform":[{"filter":"datum.p === 'c'"},{"fold":["DG","DS","HF","HD","HM","IG","NC","NS","PV","WI"],"as":["k","value"]},{"lookup":"k","from":{"data":{"name":"names"},"key":"k","fields":["tech"]}}],
"mark":{"type":"area"},
"encoding":{
"x":{"field":"yr","type":"quantitative","scale":{"domain":[2024,2050],"nice":false,"zero":false},"axis":{"values":[2024,2026,2028,2030,2032,2034,2036,2038,2040,2042,2044,2046,2048,2050],"format":"d","title":["Time (Year)","(c)"]}},
"y":{"field":"value","type":"quantitative","stack":"zero","scale":{"domain":[0,14],"nice":false},"axis":{"values":[0,2,4,6,8,10,12,14],"title":"Production (PJ)"}},
"color":{"field":"tech","type":"nominal"},
"order":{"field":"tech","type":"ordinal","sort":"ascending"}}},
{"title":"Standard; PV CF = 40%","width":226,"height":97,"data":{"name":"prod"},
"transform":[{"filter":"datum.p === 'd'"},{"fold":["DG","DS","HF","HD","HM","IG","NC","NS","PV","WI"],"as":["k","value"]},{"lookup":"k","from":{"data":{"name":"names"},"key":"k","fields":["tech"]}}],
"mark":{"type":"area"},
"encoding":{
"x":{"field":"yr","type":"quantitative","scale":{"domain":[2024,2050],"nice":false,"zero":false},"axis":{"values":[2024,2026,2028,2030,2032,2034,2036,2038,2040,2042,2044,2046,2048,2050],"format":"d","title":["Time (Year)","(d)"]}},
"y":{"field":"value","type":"quantitative","stack":"zero","scale":{"domain":[0,14],"nice":false},"axis":{"values":[0,2,4,6,8,10,12,14],"title":"Production (PJ)"}},
"color":{"field":"tech","type":"nominal"},
"order":{"field":"tech","type":"ordinal","sort":"ascending"}}}
],"spacing":30},
{"hconcat":[
{"title":"Standard; PV CF = 50%","width":226,"height":96,"data":{"name":"prod"},
"transform":[{"filter":"datum.p === 'e'"},{"fold":["DG","DS","HF","HD","HM","IG","NC","NS","PV","WI"],"as":["k","value"]},{"lookup":"k","from":{"data":{"name":"names"},"key":"k","fields":["tech"]}}],
"mark":{"type":"area"},
"encoding":{
"x":{"field":"yr","type":"quantitative","scale":{"domain":[2024,2050],"nice":false,"zero":false},"axis":{"values":[2024,2026,2028,2030,2032,2034,2036,2038,2040,2042,2044,2046,2048,2050],"format":"d","title":["Time (Year)","(e)"]}},
"y":{"field":"value","type":"quantitative","stack":"zero","scale":{"domain":[0,14],"nice":false},"axis":{"values":[0,2,4,6,8,10,12,14],"title":"Production (PJ)"}},
"color":{"field":"tech","type":"nominal"},
"order":{"field":"tech","type":"ordinal","sort":"ascending"}}},
{"title":"Standard; PV CF = 60%","width":226,"height":96,"data":{"name":"prod"},
"transform":[{"filter":"datum.p === 'f'"},{"fold":["DG","DS","HF","HD","HM","IG","NC","NS","PV","WI"],"as":["k","value"]},{"lookup":"k","from":{"data":{"name":"names"},"key":"k","fields":["tech"]}}],
"mark":{"type":"area"},
"encoding":{
"x":{"field":"yr","type":"quantitative","scale":{"domain":[2024,2050],"nice":false,"zero":false},"axis":{"values":[2024,2026,2028,2030,2032,2034,2036,2038,2040,2042,2044,2046,2048,2050],"format":"d","title":["Time (Year)","(f)"]}},
"y":{"field":"value","type":"quantitative","stack":"zero","scale":{"domain":[0,14],"nice":false},"axis":{"values":[0,2,4,6,8,10,12,14],"title":"Production (PJ)"}},
"color":{"field":"tech","type":"nominal"},
"order":{"field":"tech","type":"ordinal","sort":"ascending"}}}
],"spacing":30}
]}]}]
}
